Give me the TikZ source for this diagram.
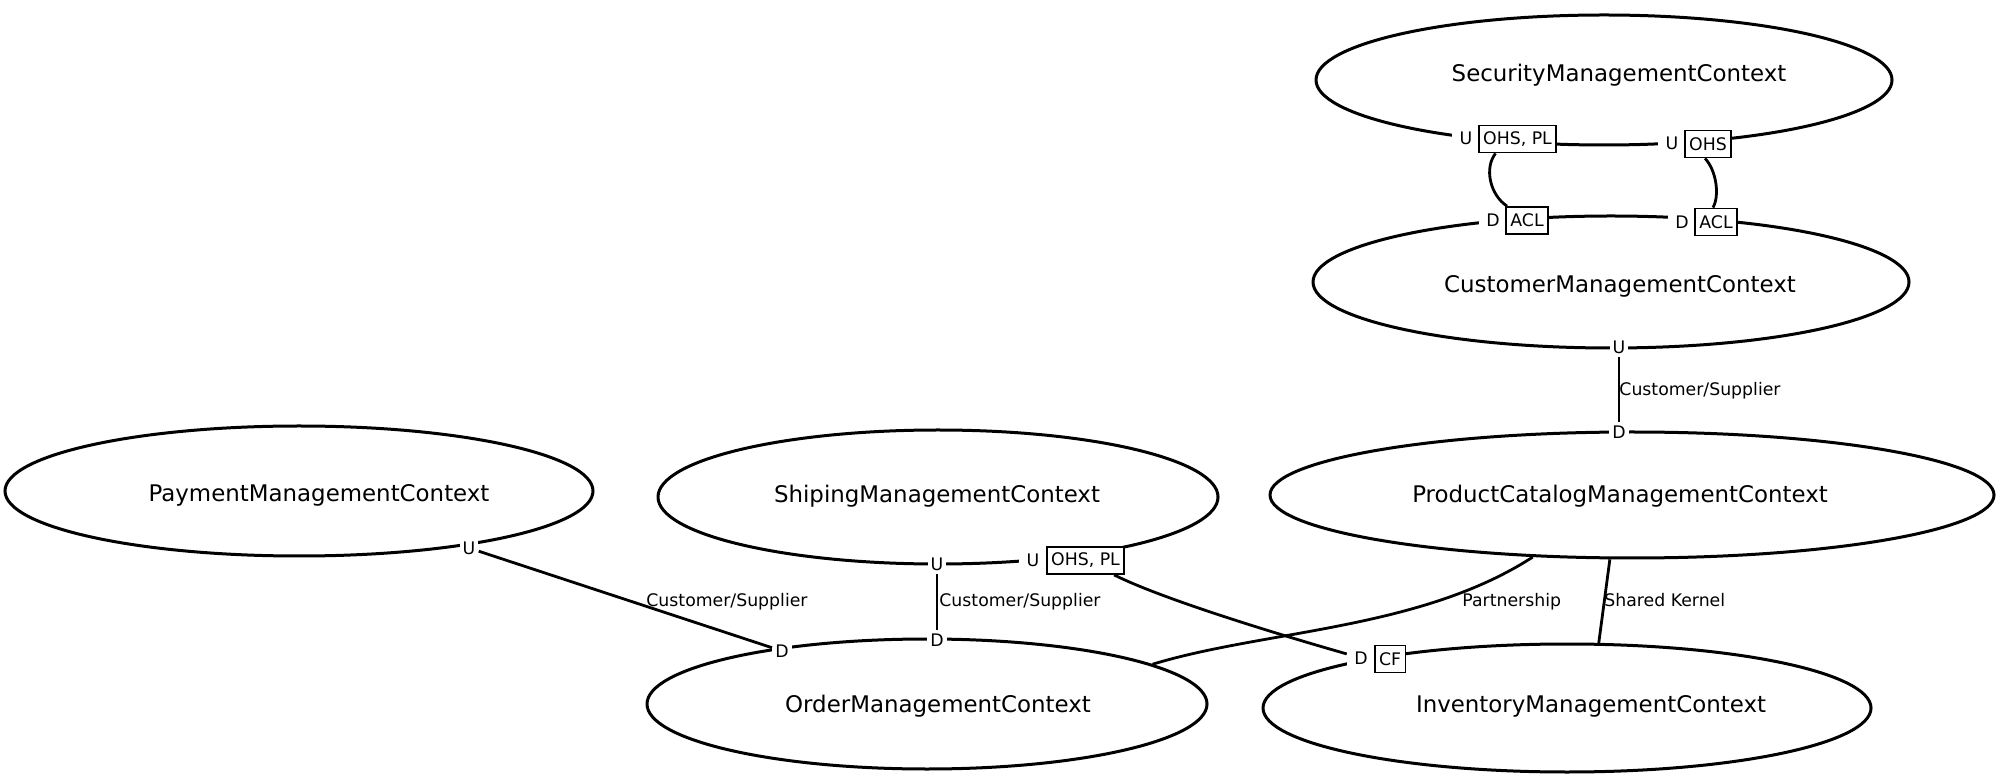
\documentclass[tikz,border=0pt]{standalone}
\usepackage{fontspec}
\setmainfont{DejaVu Sans}
\usetikzlibrary{shapes.geometric}
\begin{document}
\begin{tikzpicture}[x=0.5pt,y=-0.5pt,
  ctx/.style={draw, ellipse, line width=1.5pt, inner sep=0pt},
  ctxtext/.style={font=\fontsize{11.45}{13}\selectfont, inner sep=0pt, anchor=base},
  ud/.style={font=\fontsize{8.65}{10}\selectfont, fill=white, inner sep=1.5pt},
  udpair/.style={ud, inner xsep=3.6pt},
  tag/.style={draw, line width=0.9pt, fill=white, font=\fontsize{8.65}{10}\selectfont, inner xsep=2.2pt, inner ysep=0pt, minimum height=13.5pt},
  rel/.style={line width=1.4pt},
  rellabel/.style={font=\fontsize{8.65}{10}\selectfont, inner sep=0pt, anchor=base west}]
\fill[white] (0,0) rectangle (2000,779);
\useasboundingbox (0,0) rectangle (2000,779);

% contexts
\node[ctx, minimum width=288pt, minimum height=65pt] (sec) at (1604,80) {};
\node[ctx, minimum width=298pt, minimum height=66pt] (cus) at (1611,282) {};
\node[ctx, minimum width=362pt, minimum height=63pt] (prod) at (1632,495) {};
\node[ctx, minimum width=294pt, minimum height=65pt] (pay) at (299,491) {};
\node[ctx, minimum width=280pt, minimum height=67pt] (ship) at (938,497) {};
\node[ctx, minimum width=280pt, minimum height=65pt] (ord) at (927,704) {};
\node[ctx, minimum width=304pt, minimum height=64pt] (inv) at (1567,708) {};

\node[ctxtext] (secT) at (1619,82) {SecurityManagementContext};
\node[ctxtext] (cusT) at (1620,293) {CustomerManagementContext};
\node[ctxtext] (prodT) at (1620,503) {ProductCatalogManagementContext};
\node[ctxtext] (payT) at (319,502) {PaymentManagementContext};
\node[ctxtext] (shipT) at (937,503) {ShipingManagementContext};
\node[ctxtext] (ordT) at (938,712) {OrderManagementContext};
\node[ctxtext] (invT) at (1591,712) {InventoryManagementContext};

% end labels
\node[udpair] (secU1) at (1466,138) {U};
\node[tag] (secB1) at (1517.5,139) {OHS, PL};
\node[udpair] (secU2) at (1672,143) {U};
\node[tag] (secB2) at (1708,144) {OHS};
\node[udpair] (cusD1) at (1493,220) {D};
\node[tag] (cusB1) at (1527,220.5) {ACL};
\node[udpair] (cusD2) at (1682,222) {D};
\node[tag] (cusB2) at (1716,222) {ACL};
\node[ud] (cusU) at (1619,347) {U};
\node[ud] (prodD) at (1619,432) {D};
\node[ud] (payU) at (469,548) {U};
\node[ud] (ordD1) at (782,651) {D};
\node[ud] (ordD2) at (937,640) {D};
\node[ud] (shipU1) at (937,564) {U};
\node[udpair] (shipU2) at (1033,560) {U};
\node[tag] (shipB) at (1085.5,560.5) {OHS, PL};
\node[udpair] (invD) at (1361,658) {D};
\node[tag] (invB) at (1390,659) {CF};

% relationships
\draw[rel] ([xshift=-11pt]secB1.south) .. controls (1484,168) and (1490,195) .. ([xshift=-10pt]cusB1.north);
\draw[rel] ([xshift=-1.5pt]secB2.south) .. controls (1716,170) and (1720,195) .. ([xshift=-1.5pt]cusB2.north);
\draw[rel] (cusU) -- (prodD);
\draw[rel] (payU) -- (ordD1);
\draw[rel] (shipU1) -- (ordD2);
\draw[rel] (shipB) .. controls (1160,598) and (1270,632) .. (invD);
\draw[rel] (ord.10) .. controls (1265,630) and (1420,630) .. (prod.-148);
\draw[rel] (prod.-109) -- (inv.64);

% relationship labels
\node[rellabel] (l1) at (1619,396) {Customer/Supplier};
\node[rellabel] (l2) at (646,606) {Customer/Supplier};
\node[rellabel] (l3) at (939,606) {Customer/Supplier};
\node[rellabel] (l4) at (1462,606) {Partnership};
\node[rellabel] (l5) at (1604,606) {Shared Kernel};
\end{tikzpicture}
\end{document}
